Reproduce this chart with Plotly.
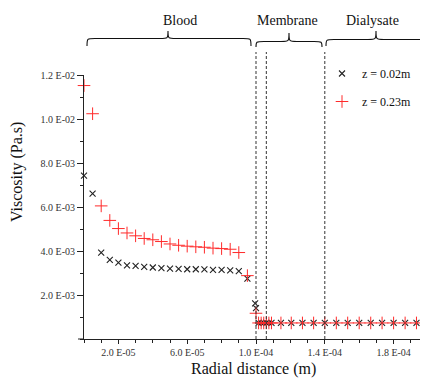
import plotly.graph_objects as go

# ---- data (radial distance in m, viscosity in Pa.s) ----
x_blood = [0.0, 0.5e-5, 1.0e-5, 1.5e-5, 2.0e-5, 2.5e-5, 3.0e-5, 3.5e-5, 4.0e-5, 4.5e-5,
           5.0e-5, 5.5e-5, 6.0e-5, 6.5e-5, 7.0e-5, 7.5e-5, 8.0e-5, 8.5e-5, 9.0e-5, 9.5e-5]
y_blood_z002 = [7.43e-3, 6.61e-3, 3.93e-3, 3.60e-3, 3.47e-3, 3.35e-3, 3.32e-3, 3.28e-3, 3.25e-3, 3.22e-3,
                3.20e-3, 3.19e-3, 3.17e-3, 3.17e-3, 3.16e-3, 3.14e-3, 3.14e-3, 3.12e-3, 3.09e-3, 2.74e-3]
y_blood_z023 = [11.52e-3, 10.24e-3, 6.05e-3, 5.39e-3, 5.02e-3, 4.82e-3, 4.69e-3, 4.57e-3, 4.51e-3, 4.43e-3,
                4.32e-3, 4.26e-3, 4.22e-3, 4.19e-3, 4.17e-3, 4.13e-3, 4.11e-3, 4.08e-3, 3.93e-3, 2.88e-3]

x_wall_z002 = [9.95e-5, 1.0e-4]
y_wall_z002 = [1.62e-3, 1.40e-3]
x_wall_z023 = [1.0e-4]
y_wall_z023 = [1.17e-3]

x_membrane = [1.015e-4, 1.03e-4, 1.045e-4, 1.06e-4, 1.075e-4, 1.09e-4,
              1.145e-4, 1.205e-4, 1.27e-4, 1.335e-4, 1.40e-4]
x_dialysate = [1.467e-4, 1.533e-4, 1.60e-4, 1.667e-4, 1.733e-4, 1.80e-4, 1.867e-4, 1.933e-4, 2.0e-4]
y_membrane = [0.73e-3] * len(x_membrane)
y_dialysate = [0.73e-3] * len(x_dialysate)

x_z002 = x_blood + x_wall_z002 + x_membrane + x_dialysate
y_z002 = y_blood_z002 + y_wall_z002 + y_membrane + y_dialysate
x_z023 = x_blood + x_wall_z023 + x_membrane + x_dialysate
y_z023 = y_blood_z023 + y_wall_z023 + y_membrane + y_dialysate

region_bounds = [1.0e-4, 1.06e-4, 1.4e-4]
region_labels = ["Blood", "Membrane", "Dialysate"]

y_tickvals = [2e-3, 4e-3, 6e-3, 8e-3, 10e-3, 12e-3]
y_ticktext = ["2.0 E-03", "4.0 E-03", "6.0 E-03", "8.0 E-03", "1.0 E-02", "1.2 E-02"]
x_tickvals = [2e-5, 6e-5, 1.0e-4, 1.4e-4, 1.8e-4]
x_ticktext = ["2.0 E-05", "6.0 E-05", "1.0 E-04", "1.4 E-04", "1.8 E-04"]

# ---- layout geometry (pixels); page body has an 8px margin ----
OFF = 8
W, H = 420, 371
L, R, T, B = 76, 0, 67, 40
PW, PH = W - L - R, H - T - B


def px(xs):
    return (xs - OFF - L) / PW


def py(ys):
    return (H - B - (ys - OFF)) / PH


FONT = "Liberation Serif"

fig = go.Figure()
fig.add_trace(go.Scatter(
    x=x_z002, y=y_z002, mode="markers", name="z = 0.02m", legendgroup="a",
    marker=dict(symbol="x-thin", size=6, color="#222222",
                line=dict(width=1.1, color="#222222")),
    cliponaxis=False))
fig.add_trace(go.Scatter(
    x=x_z023, y=y_z023, mode="markers", name="z = 0.23m", legendgroup="b",
    marker=dict(symbol="cross-thin", size=9, color="#ff2a2a",
                line=dict(width=1, color="#ff2a2a")),
    cliponaxis=False))

shapes = []
for xb in region_bounds:
    shapes.append(dict(type="line", xref="x", yref="paper", x0=xb, x1=xb,
                       y0=0, y1=py(52), line=dict(color="#333333", width=1, dash="3px,2px")))
# small extension of the x axis line to the left of the y axis
shapes.append(dict(type="line", xref="paper", yref="paper", x0=px(78), x1=0, y0=0, y1=0,
                   line=dict(color="#222222", width=1)))


def brace(x0, x1, xm, yend, yflat, yapex):
    a, b, c = px(x0), px(x1), px(xm)
    ye, yf, ya = py(yend), py(yflat), py(yapex)
    dx = 8 / PW
    return (f"M {a},{ye} C {a},{yf} {a},{yf} {a+dx},{yf} "
            f"L {c-dx},{yf} C {c},{yf} {c},{yf} {c},{ya} "
            f"C {c},{yf} {c},{yf} {c+dx},{yf} "
            f"L {b-dx},{yf} C {b},{yf} {b},{yf} {b},{ye}")


braces = [(87, 251, 168, 46, 38.5, 31), (256, 322, 289, 47, 41.5, 33), (326, 426, 376, 46, 39.5, 31)]
for (a, b, c, e, f, g) in braces:
    shapes.append(dict(type="path", xref="paper", yref="paper", path=brace(a, b, c, e, f, g),
                       line=dict(color="#111111", width=1.1)))

annotations = []
for txt, xc in zip(region_labels, [180, 287, 372]):
    annotations.append(dict(text=txt, xref="paper", yref="paper", x=px(xc), y=py(20),
                            xanchor="center", yanchor="middle",
                            showarrow=False, font=dict(family=FONT, size=14, color="#111111")))
annotations.append(dict(text="Viscosity (Pa.s)", xref="paper", yref="paper", x=px(17), y=py(172),
                        xanchor="center", yanchor="middle",
                        textangle=-90, showarrow=False, font=dict(family=FONT, size=16, color="#111111")))
annotations.append(dict(text="Radial distance (m)", xref="paper", yref="paper", x=px(253), y=py(369),
                        xanchor="center", yanchor="middle",
                        showarrow=False, font=dict(family=FONT, size=16, color="#111111")))

fig.update_layout(
    width=W, height=H, margin=dict(l=L, r=R, t=T, b=B, autoexpand=False),
    paper_bgcolor="white", plot_bgcolor="white",
    showlegend=True,
    legend=dict(x=px(322), y=py(59), xanchor="left", yanchor="top",
                font=dict(family=FONT, size=12, color="#111111"),
                bgcolor="rgba(0,0,0,0)", tracegroupgap=9, traceorder="grouped"),
    shapes=shapes, annotations=annotations,
    font=dict(family=FONT),
)
fig.update_xaxes(range=[0, 2.0e-4], showgrid=False, zeroline=False,
                 showline=True, linecolor="#222222", linewidth=1,
                 tickmode="array", tickvals=x_tickvals, ticktext=x_ticktext,
                 ticks="outside", ticklen=4, tickcolor="#222222",
                 tickfont=dict(family=FONT, size=10, color="#333333"),
                 minor=dict(tickmode="linear", tick0=0, dtick=1e-5, ticks="outside",
                            ticklen=3, tickcolor="#222222", showgrid=False))
fig.update_yaxes(range=[0, 0.012], showgrid=False, zeroline=False,
                 showline=True, linecolor="#222222", linewidth=1,
                 tickmode="array", tickvals=y_tickvals, ticktext=y_ticktext,
                 ticks="outside", ticklen=6, tickcolor="#222222",
                 tickfont=dict(family=FONT, size=10, color="#333333"),
                 minor=dict(tickmode="linear", tick0=0, dtick=1e-3, ticks="outside",
                            ticklen=3, tickcolor="#222222", showgrid=False))

fig.write_html("out.html")
